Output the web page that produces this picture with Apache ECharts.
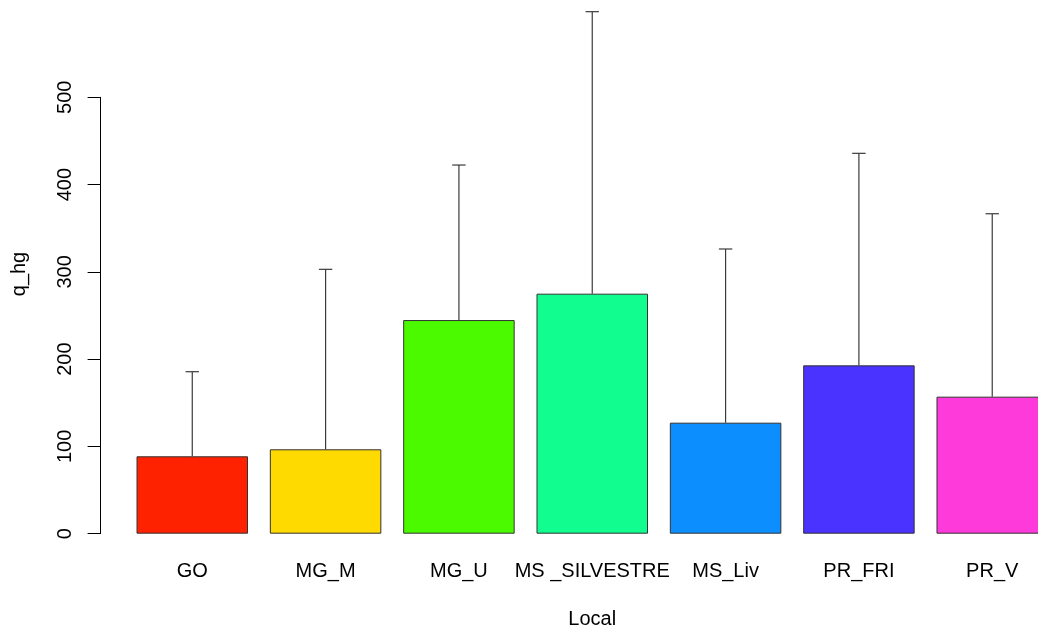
<!DOCTYPE html>
<html>
<head>
<meta charset="utf-8">
<script src="https://cdn.jsdelivr.net/npm/echarts@6/dist/echarts.min.js"></script>
<style>
  html, body { margin: 0; padding: 0; background: #fff; }
  #chart { width: 1038px; height: 628px; }
</style>
</head>
<body>
<div id="chart"></div>
<script>
const categories = ['GO', 'MG_M', 'MG_U', 'MS _SILVESTRE', 'MS_Liv', 'PR_FRI', 'PR_V'];
const meanValues = [88.7, 96.7, 244.8, 275.0, 127.2, 192.9, 157.0];
const upperValues = [185.6, 302.9, 422.4, 598.1, 326.2, 435.8, 366.6];
const barColors = ['#FF2200', '#FFDA00', '#4CFA00', '#12FD90', '#0C8EFF', '#4A33FF', '#FF3ADB'];
const yTicks = [0, 100, 200, 300, 400, 500];

const font = 'Liberation Sans, Arial, Helvetica, sans-serif';

const chart = echarts.init(document.getElementById('chart'));

let option = {
  backgroundColor: '#ffffff',
  animation: false,
  grid: {
    left: 125.6,
    width: 933.3,
    top: 97.3,
    height: 436.4,
    outerBoundsMode: 'none',
    containLabel: false
  },
  xAxis: {
    type: 'category',
    data: categories,
    name: 'Local',
    nameLocation: 'middle',
    nameGap: 76,
    nameTextStyle: { color: '#000', fontSize: 20, fontFamily: font },
    axisLine: { show: false },
    axisTick: { show: false },
    axisLabel: { color: '#000', fontSize: 20, fontFamily: font, margin: 28, interval: 0 }
  },
  yAxis: {
    type: 'value',
    min: yTicks[0],
    max: yTicks[yTicks.length - 1],
    interval: 100,
    offset: 25,
    splitLine: { show: false },
    axisLine: { show: true, lineStyle: { color: '#000', width: 1 } },
    axisTick: { show: true, length: 13, lineStyle: { color: '#000', width: 1 } },
    axisLabel: { color: '#000', fontSize: 20, fontFamily: font, rotate: 90, margin: 25 }
  },
  graphic: [{
    type: 'text',
    x: 19,
    y: 274,
    rotation: Math.PI / 2,
    style: {
      text: 'q_hg',
      fill: '#000',
      font: '20px ' + font,
      textAlign: 'center',
      textVerticalAlign: 'middle'
    }
  }],
  series: [
    {
      type: 'bar',
      barWidth: 111.5,
      data: meanValues.map((v, i) => ({
        value: v,
        itemStyle: { color: barColors[i] }
      })),
      itemStyle: { borderColor: '#333', borderWidth: 1 },
      z: 2
    },
    {
      type: 'custom',
      clip: false,
      z: 3,
      data: categories.map((c, i) => [i, meanValues[i], upperValues[i]]),
      renderItem: function (params, api) {
        const low = api.coord([api.value(0), api.value(1)]);
        const high = api.coord([api.value(0), api.value(2)]);
        const half = 6.7;
        const style = { stroke: '#3a3a3a', lineWidth: 1.2 };
        return {
          type: 'group',
          children: [
            { type: 'line', shape: { x1: low[0], y1: low[1], x2: high[0], y2: high[1] }, style: style },
            { type: 'line', shape: { x1: high[0] - half, y1: high[1], x2: high[0] + half, y2: high[1] }, style: style }
          ]
        };
      }
    }
  ]
};

chart.setOption(option);
</script>
</body>
</html>
